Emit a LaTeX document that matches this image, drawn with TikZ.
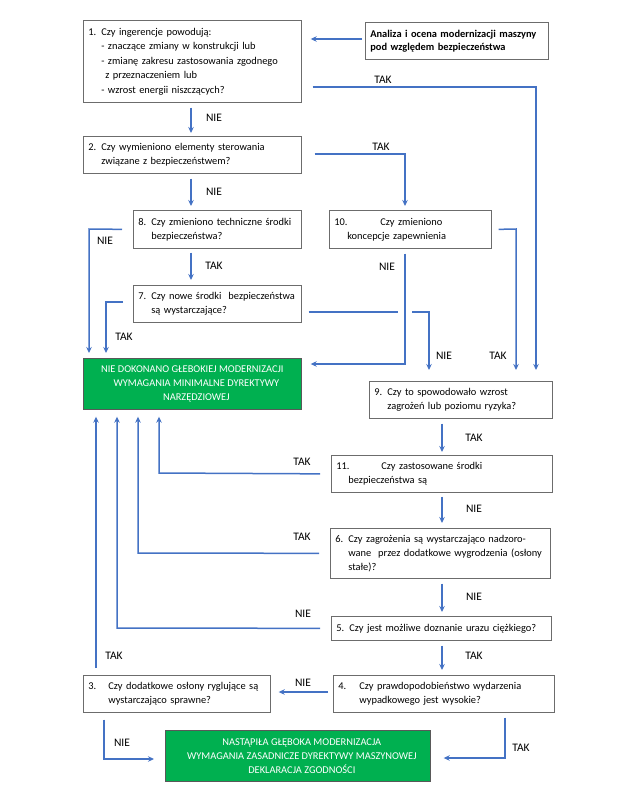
\documentclass[tikz,border=0pt]{standalone}
\usepackage{fontspec}
\setmainfont{Carlito}
\usetikzlibrary{arrows.meta}
\definecolor{niebieski}{HTML}{4472C4}
\definecolor{zielony}{HTML}{00B050}
\tikzset{
  pytanie/.style={draw=gray!85!black,line width=0.7pt,rectangle,anchor=north west,align=left,inner xsep=5pt,inner ysep=3pt,font=\fontsize{10.4}{14}\selectfont},
  wynik/.style={draw=gray!70!black,line width=0.7pt,fill=zielony,text=white,rectangle,anchor=north west,align=center,font=\fontsize{10.4}{13.7}\selectfont},
  lin/.style={niebieski,line width=1.5pt},
  strz/.style={lin,-{Stealth[length=6pt,width=5.5pt]}},
  etyk/.style={font=\fontsize{11.5}{12}\selectfont,inner sep=0pt}
}
\newcommand{\nr}[2][13pt]{\makebox[#1][l]{#2}}
\begin{document}
\begin{tikzpicture}[x=1pt,y=-1pt]
\useasboundingbox (0,0) rectangle (636,800);
\node[pytanie,minimum width=218pt,minimum height=82pt,text width=208pt,font=\fontsize{10.4}{14.5}\selectfont] (q1) at (83,20) {\nr{1.}Czy ingerencje powodują:\\\hspace*{13pt}- znaczące zmiany w konstrukcji lub\\\mbox{\hspace*{13pt}- zmianę zakresu zastosowania zgodnego}\\\hspace*{17pt}z przeznaczeniem lub\\\hspace*{13pt}- wzrost energii niszczących?};
\node[pytanie,minimum width=183pt,minimum height=37pt,text width=173pt,font=\bfseries\fontsize{10.4}{13}\selectfont] (anal) at (365,22) {\mbox{Analiza i ocena modernizacji maszyny}\\pod względem bezpieczeństwa};
\node[pytanie,minimum width=218pt,minimum height=37pt,text width=208pt] (q2) at (83,136) {\mbox{\nr{2.}Czy wymieniono elementy sterowania}\\\hspace*{13pt}związane z bezpieczeństwem?};
\node[pytanie,minimum width=168pt,minimum height=38pt,text width=158pt] (q8) at (133,210) {\mbox{\nr{8.}Czy zmieniono techniczne środki}\\\hspace*{13pt}bezpieczeństwa?};
\node[pytanie,minimum width=162pt,minimum height=38pt,text width=152pt] (q10) at (329,210) {\nr[46pt]{10.}Czy zmieniono\\\hspace*{13pt}koncepcje zapewnienia};
\node[pytanie,minimum width=168pt,minimum height=37pt,text width=158pt] (q7) at (133,285) {\mbox{\nr{7.}Czy nowe środki\ \ bezpieczeństwa}\\\hspace*{13pt}są wystarczające?};
\node[wynik,minimum width=218pt,minimum height=51pt] (nie) at (83,358) {NIE DOKONANO GŁEBOKIEJ MODERNIZACJI\\\hspace*{8pt}WYMAGANIA MINIMALNE DYREKTYWY\\\hspace*{8pt}NARZĘDZIOWEJ};
\node[pytanie,minimum width=183pt,minimum height=37pt,text width=173pt] (q9) at (369,381) {\nr{9.}Czy to spowodowało wzrost\\\hspace*{13pt}zagrożeń lub poziomu ryzyka?};
\node[pytanie,minimum width=221pt,minimum height=37pt,text width=211pt] (q11) at (331,455) {\nr[45pt]{11.}Czy zastosowane środki\\\hspace*{12pt}bezpieczeństwa są};
\node[pytanie,minimum width=220pt,minimum height=50pt,text width=210pt] (q6) at (330,528) {\mbox{\nr{6.}Czy zagrożenia są wystarczająco nadzoro-}\\\mbox{\hspace*{13pt}wane\ \ przez dodatkowe wygrodzenia (osłony}\\\hspace*{13pt}stałe)?};
\node[pytanie,minimum width=220pt,minimum height=24pt,text width=210pt] (q5) at (331,616) {\mbox{\nr{5.}Czy jest możliwe doznanie urazu ciężkiego?}};
\node[pytanie,minimum width=221pt,minimum height=37pt,text width=211pt] (q4) at (333,675) {\mbox{\nr[21pt]{4.}Czy prawdopodobieństwo wydarzenia}\\\hspace*{21pt}wypadkowego jest wysokie?};
\node[pytanie,minimum width=187pt,minimum height=37pt,text width=177pt] (q3) at (83,675) {\mbox{\nr[20pt]{3.}Czy dodatkowe osłony ryglujące są}\\\hspace*{20pt}wystarczająco sprawne?};
\node[wynik,minimum width=265pt,minimum height=51pt,font=\fontsize{10.4}{14}\selectfont] (tak) at (165,730) {\hspace*{8pt}NASTĄPIŁA GŁĘBOKA MODERNIZACJA\\\hspace*{8pt}WYMAGANIA ZASADNICZE DYREKTYWY MASZYNOWEJ\\\hspace*{8pt}DEKLARACJA ZGODNOŚCI};

\draw[strz] ([xshift=-3pt]anal.west |- 0,39) -- ([xshift=9pt]q1.east |- 0,39);
\draw[strz] ([xshift=11pt]q1.east |- 0,87) -- (536,87) -- (536,370);
\draw[strz] ([yshift=-5pt]q1.south -| 191,0) -- ([yshift=3pt]q2.north -| 191,0);
\draw[strz] ([xshift=13pt]q2.east |- 0,154) -- (405,154) -- ([yshift=4pt]q10.north -| 405,0);
\draw[strz] ([yshift=-5pt]q2.south -| 191,0) -- ([yshift=4pt]q8.north -| 191,0);
\draw[strz] ([xshift=-11pt]q8.west) -- (89,229) -- ([yshift=5pt]nie.north -| 89,0);
\draw[strz] ([xshift=7pt]q10.east) -- (516,229) -- ([yshift=11pt]q9.north -| 516,0);
\draw[strz] ([yshift=-5pt]q10.south -| 405,0) -- (405,364) -- ([xshift=9pt]nie.east |- 0,364);
\draw[strz] ([yshift=-4pt]q8.south -| 191,0) -- ([yshift=5pt]q7.north -| 191,0);
\draw[strz] ([xshift=-10pt]q7.west |- 0,302) -- (106,302) -- ([yshift=5pt]nie.north -| 106,0);
\draw[lin] ([xshift=7pt]q7.east |- 0,312) -- (398,312);
\draw[strz] (412,312) -- (429,312) -- ([yshift=11pt]q9.north -| 429,0);
\draw[strz] ([yshift=-5pt]q9.south -| 442,0) -- ([yshift=3pt]q11.north -| 442,0);
\draw[strz] ([xshift=-11pt]q11.west) -- (159,473) -- ([yshift=-7pt]nie.south -| 159,0);
\draw[strz] ([yshift=-4pt]q11.south -| 442,0) -- ([yshift=5pt]q6.north -| 442,0);
\draw[strz] ([xshift=-11pt]q6.west) -- (138,553) -- ([yshift=-7pt]nie.south -| 138,0);
\draw[strz] ([yshift=-5pt]q6.south -| 442,0) -- ([yshift=4pt]q5.north -| 442,0);
\draw[strz] ([xshift=-11pt]q5.west) -- (117,628) -- ([yshift=-7pt]nie.south -| 117,0);
\draw[strz] ([yshift=-5pt]q5.south -| 442,0) -- ([yshift=5pt]q4.north -| 442,0);
\draw[strz] ([xshift=-5pt]q4.west |- 0,692) -- ([xshift=8pt]q3.east |- 0,692);
\draw[strz] ([yshift=7pt]q3.north -| 96,0) -- ([yshift=-7pt]nie.south -| 96,0);
\draw[strz] ([yshift=-7pt]q3.south -| 104,0) -- (104,759) -- ([xshift=-11pt]tak.west |- 0,759);
\draw[strz] ([yshift=-5pt]q4.south -| 505,0) -- (505,758) -- ([xshift=13pt]tak.east |- 0,758);

\node[etyk] (e1) at (383,80) {TAK};
\node[etyk] (e2) at (214,118) {NIE};
\node[etyk] (e3) at (381,147) {TAK};
\node[etyk] (e4) at (214,192) {NIE};
\node[etyk] (e5) at (105,241) {NIE};
\node[etyk] (e6) at (214,266) {TAK};
\node[etyk] (e7) at (387,267) {NIE};
\node[etyk] (e8) at (124,337) {TAK};
\node[etyk] (e9) at (444,356) {NIE};
\node[etyk] (e10) at (498,356) {TAK};
\node[etyk] (e11) at (474,438) {TAK};
\node[etyk] (e12) at (302,462) {TAK};
\node[etyk] (e13) at (474,509) {NIE};
\node[etyk] (e14) at (302,537) {TAK};
\node[etyk] (e15) at (474,597) {NIE};
\node[etyk] (e16) at (303,614) {NIE};
\node[etyk] (e17) at (474,656) {TAK};
\node[etyk] (e18) at (114,656) {TAK};
\node[etyk] (e19) at (303,683) {NIE};
\node[etyk] (e20) at (122,743) {NIE};
\node[etyk] (e21) at (521,748) {TAK};
\end{tikzpicture}
\end{document}
